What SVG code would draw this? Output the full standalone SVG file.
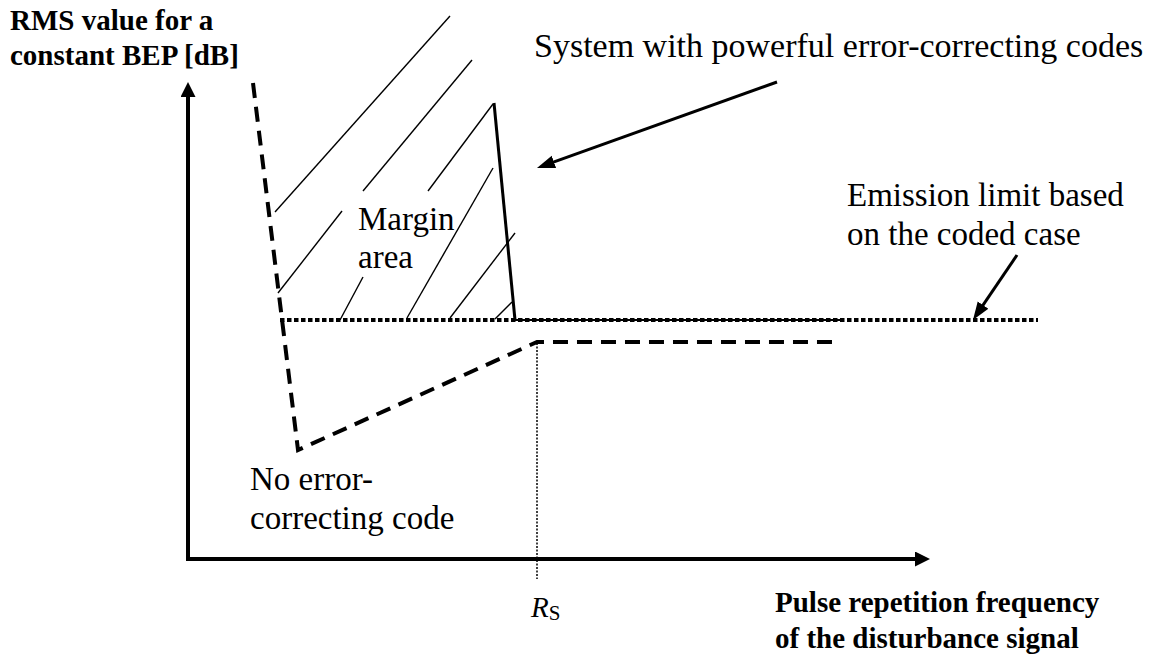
<svg xmlns="http://www.w3.org/2000/svg" width="1149" height="659" viewBox="0 0 1149 659">
  <style>
    .lbl { font-family: 'Liberation Serif', 'DejaVu Serif', serif; font-size: 33px; fill: #000; }
    .bold { font-family: 'Liberation Serif', 'DejaVu Serif', serif; font-size: 29px; font-weight: bold; fill: #000; }
    .axis { stroke: #000; stroke-width: 4; fill: none; }
    .hatch { stroke: #000; stroke-width: 1.4; fill: none; }
    .uncoded { stroke: #000; stroke-width: 4; fill: none; stroke-dasharray: 15 9; stroke-linejoin: miter; }
    .coded { stroke: #000; stroke-width: 3; fill: none; stroke-linejoin: miter; }
    .limit { stroke: #000; stroke-width: 4; fill: none; stroke-dasharray: 4.5 2.5; }
    .guide { stroke: #000; stroke-width: 1.5; fill: none; stroke-dasharray: 2 1.5; }
    .pointer { stroke: #000; stroke-width: 3; fill: none; }
  </style>
  <defs>
    <marker id="axisHead" markerUnits="userSpaceOnUse" markerWidth="16" markerHeight="16" refX="5" refY="7.5" orient="auto">
      <path d="M0,0 L15,7.5 L0,15 z" fill="#000"/>
    </marker>
    <marker id="pointerHead" markerUnits="userSpaceOnUse" markerWidth="19" markerHeight="15" refX="8" refY="6.5" orient="auto">
      <path d="M0,0 L18,6.5 L0,13 z" fill="#000"/>
    </marker>
  </defs>

  <rect width="1149" height="659" fill="#fff"/>

  <!-- axes -->
  <g id="axes">
    <line class="axis" x1="188" y1="561" x2="188" y2="92" marker-end="url(#axisHead)"/>
    <line class="axis" x1="186" y1="559" x2="920" y2="559" marker-end="url(#axisHead)"/>
  </g>

  <!-- hatched margin area -->
  <g id="margin-hatch">
    <line class="hatch" x1="450" y1="16" x2="275" y2="212"/>
    <line class="hatch" x1="472" y1="60" x2="363" y2="191"/>
    <line class="hatch" x1="493" y1="104" x2="428" y2="191"/>
    <line class="hatch" x1="493" y1="168" x2="407" y2="318"/>
    <line class="hatch" x1="515" y1="233" x2="450" y2="318"/>
    <line class="hatch" x1="512" y1="302" x2="495" y2="319"/>
    <line class="hatch" x1="342" y1="211" x2="278" y2="293"/>
    <line class="hatch" x1="363" y1="277" x2="340" y2="320"/>
  </g>

  <!-- curves -->
  <g id="curve-coded">
    <path class="coded" d="M494,103 L515,320"/>
    <line x1="515" y1="320" x2="843" y2="320" stroke="#000" stroke-width="2"/>
  </g>
  <g id="emission-limit">
    <line class="limit" x1="280" y1="320" x2="1038" y2="320"/>
  </g>
  <g id="curve-uncoded">
    <path class="uncoded" d="M253,83 L298,450 L537,342 L832,342"/>
  </g>
  <g id="rs-guide">
    <line class="guide" x1="537" y1="343" x2="537" y2="579"/>
  </g>

  <!-- pointer arrows -->
  <g id="connectors">
    <line class="pointer" x1="777" y1="82" x2="546.4" y2="164.6" marker-end="url(#pointerHead)"/>
    <line class="pointer" x1="1017" y1="255" x2="978.6" y2="311.7" marker-end="url(#pointerHead)"/>
  </g>

  <!-- labels -->
  <g id="label-y-axis">
    <text class="bold" x="10" y="30">RMS value for a</text>
    <text class="bold" x="10" y="65">constant BEP [dB]</text>
  </g>
  <g id="label-coded-system">
    <text class="lbl" x="534" y="57" style="font-size:34px">System with powerful error-correcting codes</text>
  </g>
  <g id="label-margin">
    <text class="lbl" x="358" y="230">Margin</text>
    <text class="lbl" x="358" y="268">area</text>
  </g>
  <g id="label-emission">
    <text class="lbl" x="847" y="206">Emission limit based</text>
    <text class="lbl" x="847" y="245">on the coded case</text>
  </g>
  <g id="label-uncoded">
    <text class="lbl" x="250" y="490">No error-</text>
    <text class="lbl" x="250" y="529">correcting code</text>
  </g>
  <g id="label-rs">
    <text class="lbl" x="531" y="617" style="font-size:29px;font-style:italic">R<tspan style="font-style:normal;font-size:21px" dy="3">S</tspan></text>
  </g>
  <g id="label-x-axis">
    <text class="bold" x="775" y="612">Pulse repetition frequency</text>
    <text class="bold" x="775" y="648">of the disturbance signal</text>
  </g>
</svg>
